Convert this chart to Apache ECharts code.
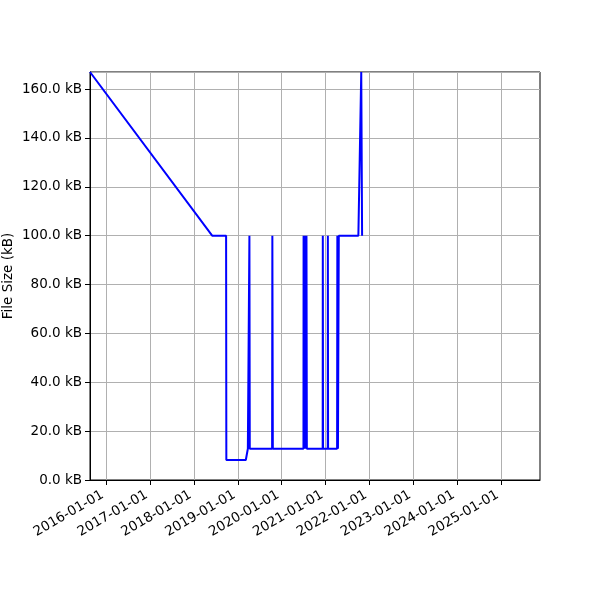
<!DOCTYPE html>
<html>
<head>
<meta charset="utf-8">
<script src="https://cdn.jsdelivr.net/npm/echarts@6/dist/echarts.min.js"></script>
<style>html,body{margin:0;padding:0;background:#fff;}#c{width:600px;height:600px;}</style>
</head>
<body>
<div id="c"></div>
<script>
const dates = ['2015-08-19','2018-06-01','2018-09-25','2018-09-27','2019-03-08','2019-03-25','2019-04-05','2019-04-07','2019-04-10',
  '2019-10-13','2019-10-15','2019-10-19','2020-06-30','2020-07-01','2020-07-04','2020-07-11','2020-07-12','2020-07-15',
  '2020-07-24','2020-07-25','2020-07-28','2020-12-07','2020-12-08','2020-12-10','2021-01-18','2021-01-19','2021-01-21',
  '2021-04-06','2021-04-08','2021-04-13','2021-04-20','2021-09-30','2021-10-24','2021-10-31'];
const sizesKB = [167,100,100,8.2,8.2,12.8,12.8,100,12.8,
  12.8,100,12.8,12.8,100,12.8,12.8,100,12.8,
  12.8,100,12.8,12.8,100,12.8,12.8,100,12.8,
  12.8,100,12.8,100,100,167,100];
const xTickLabels = ['2016-01-01','2017-01-01','2018-01-01','2019-01-01','2020-01-01','2021-01-01','2022-01-01','2023-01-01','2024-01-01','2025-01-01'];
const xRange = ['2015-08-19','2025-11-20'];
const yTicks = [0,20,40,60,80,100,120,140,160];
const yMax = 167;

function ts(s){ const p = s.split('-').map(Number); return Date.UTC(p[0], p[1]-1, p[2]); }
function fmt(v){ const d = new Date(v); const p = n => String(n).padStart(2,'0');
  return d.getUTCFullYear() + '-' + p(d.getUTCMonth()+1) + '-' + p(d.getUTCDate()); }

const tickVals = xTickLabels.map(ts);
const data = dates.map((d,i) => [ts(d), sizesKB[i]]);
const font = 'DejaVu Sans';

const chart = echarts.init(document.getElementById('c'), null, {renderer:'canvas'});
chart.setOption({
  animation: false,
  backgroundColor: '#fff',
  grid: {left: 90, right: 60, top: 72, bottom: 120, show: true, borderColor: '#000', borderWidth: 1,
    containLabel: false, outerBoundsMode: 'none'},
  xAxis: {
    type: 'value',
    min: ts(xRange[0]), max: ts(xRange[1]),
    axisLine: {show: true, onZero: false, lineStyle: {color: '#000', width: 1}},
    axisTick: {show: true, customValues: tickVals, length: 5, lineStyle: {color: '#000'}},
    axisLabel: {customValues: tickVals, formatter: v => fmt(v), rotate: 30, align: 'right', verticalAlign: 'bottom',
      color: '#000', fontFamily: font, fontSize: 13.5, margin: 20, hideOverlap: false},
    splitLine: {show: true, lineStyle: {color: '#b0b0b0', width: 1}}
  },
  yAxis: {
    type: 'value',
    min: 0, max: yMax, interval: 20,
    name: 'File Size (kB)', nameLocation: 'middle', nameGap: 75, nameRotate: 90, nameMoveOverlap: false,
    nameTextStyle: {color: '#000', fontFamily: font, fontSize: 13.5},
    axisLine: {show: true, lineStyle: {color: '#000', width: 1}},
    axisTick: {show: true, length: 5, lineStyle: {color: '#000'}},
    axisLabel: {color: '#000', fontFamily: font, fontSize: 13.5, margin: 8, showMaxLabel: false,
      formatter: v => yTicks.includes(v) ? v.toFixed(1) + ' kB' : ''},
    splitLine: {show: true, lineStyle: {color: '#b0b0b0', width: 1}}
  },
  series: [{
    type: 'line', data: data, showSymbol: false, symbol: 'none', clip: true,
    lineStyle: {color: '#0000ff', width: 2}, itemStyle: {color: '#0000ff'}
  }]
});
</script>
</body>
</html>
